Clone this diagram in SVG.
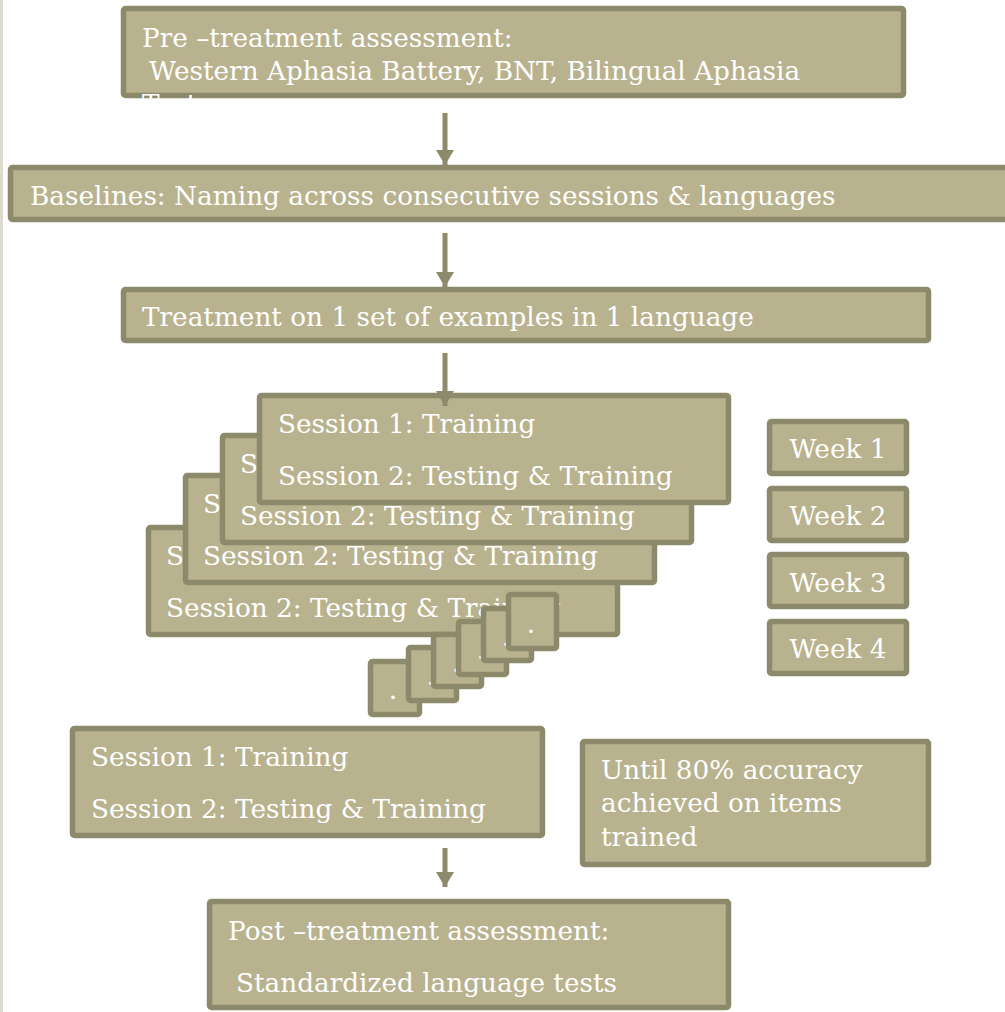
<svg xmlns="http://www.w3.org/2000/svg" width="1005" height="1012" viewBox="0 0 1005 1012">
<style>
.box{fill:#b8b28e;stroke:#8c8a6b;stroke-width:5.5}
.t{font-family:"DejaVu Serif","Liberation Serif",serif;font-size:26.3px;fill:#ffffff}
.tc{text-anchor:middle}
.conn{stroke:#8c8a6b;stroke-width:5;fill:none}
</style>
<defs>
<marker id="ah" markerUnits="userSpaceOnUse" markerWidth="16" markerHeight="18" refX="15" refY="9" orient="auto" viewBox="0 0 16 18">
<path d="M0,0 L15,9 L0,18 z" fill="#8c8a6b"/>
</marker>
<clipPath id="clip1"><rect x="0" y="0" width="1005" height="100"/></clipPath>
</defs>
<rect x="0" y="0" width="1005" height="1012" fill="#ffffff"/>
<rect x="0" y="0" width="3" height="1012" fill="#dddbcc"/>

<g id="pre">
<rect class="box" x="123.5" y="8.5" width="780" height="87" rx="2"/>
<text class="t" x="142" y="47">Pre –treatment assessment:</text>
<text class="t" x="149" y="80">Western Aphasia Battery, BNT, Bilingual Aphasia</text>
<text class="t" x="142" y="113" clip-path="url(#clip1)">Test</text>
</g>

<g id="baselines">
<rect class="box" x="10.5" y="167.5" width="1000" height="52" rx="2"/>
<text class="t" x="30" y="205">Baselines: Naming across consecutive sessions &amp; languages</text>
</g>

<g id="treatment">
<rect class="box" x="123.5" y="289.5" width="805" height="51" rx="2"/>
<text class="t" x="142" y="326">Treatment on 1 set of examples in 1 language</text>
</g>

<g id="stackA">
<rect class="box" x="148.5" y="527.5" width="469" height="107" rx="2"/>
<text class="t" x="166" y="565">Session 1: Training</text>
<text class="t" x="166" y="617">Session 2: Testing &amp; Training</text>
</g>
<g id="stackB">
<rect class="box" x="185.5" y="475.5" width="469" height="107" rx="2"/>
<text class="t" x="203" y="513">Session 1: Training</text>
<text class="t" x="203" y="565">Session 2: Testing &amp; Training</text>
</g>
<g id="stackC">
<rect class="box" x="222.5" y="435.5" width="469" height="107" rx="2"/>
<text class="t" x="240" y="473">Session 1: Training</text>
<text class="t" x="240" y="525">Session 2: Testing &amp; Training</text>
</g>
<g id="stackD">
<rect class="box" x="259.5" y="395.5" width="469" height="107" rx="2"/>
<text class="t" x="278" y="433">Session 1: Training</text>
<text class="t" x="278" y="485">Session 2: Testing &amp; Training</text>
</g>

<g id="dot6"><rect class="box" x="370.5" y="661.5" width="49" height="53" rx="2"/><text class="t tc" x="393" y="699">.</text></g>
<g id="dot5"><rect class="box" x="408.5" y="647.5" width="48" height="53" rx="2"/><text class="t tc" x="431" y="685">.</text></g>
<g id="dot4"><rect class="box" x="433.5" y="634.5" width="48" height="52" rx="2"/><text class="t tc" x="456" y="672">.</text></g>
<g id="dot3"><rect class="box" x="458.5" y="621.5" width="48" height="53" rx="2"/><text class="t tc" x="481" y="659">.</text></g>
<g id="dot2"><rect class="box" x="483.5" y="608.5" width="48" height="52" rx="2"/><text class="t tc" x="506" y="646">.</text></g>
<g id="dot1"><rect class="box" x="508.5" y="594.5" width="48" height="54" rx="2"/><text class="t tc" x="531" y="633">.</text></g>

<g id="week1"><rect class="box" x="769.5" y="421.5" width="137" height="52" rx="2"/><text class="t tc" x="838" y="458">Week 1</text></g>
<g id="week2"><rect class="box" x="769.5" y="488.5" width="137" height="52" rx="2"/><text class="t tc" x="838" y="525">Week 2</text></g>
<g id="week3"><rect class="box" x="769.5" y="554.5" width="137" height="52" rx="2"/><text class="t tc" x="838" y="592">Week 3</text></g>
<g id="week4"><rect class="box" x="769.5" y="621.5" width="137" height="52" rx="2"/><text class="t tc" x="838" y="658">Week 4</text></g>

<g id="sessionLast">
<rect class="box" x="72.5" y="728.5" width="470" height="107" rx="2"/>
<text class="t" x="91" y="766">Session 1: Training</text>
<text class="t" x="91" y="818">Session 2: Testing &amp; Training</text>
</g>

<g id="until">
<rect class="box" x="582.5" y="741.5" width="346" height="123" rx="2"/>
<text class="t" x="601" y="779">Until 80% accuracy</text>
<text class="t" x="601" y="812">achieved on items</text>
<text class="t" x="601" y="846">trained</text>
</g>

<g id="post">
<rect class="box" x="209.5" y="901.5" width="519" height="106" rx="2"/>
<text class="t" x="228" y="940">Post –treatment assessment:</text>
<text class="t" x="236" y="992">Standardized language tests</text>
</g>

<g id="connectors">
<line class="conn" x1="445" y1="113" x2="445" y2="165" marker-end="url(#ah)"/>
<line class="conn" x1="445" y1="233" x2="445" y2="287" marker-end="url(#ah)"/>
<line class="conn" x1="445" y1="353" x2="445" y2="406" marker-end="url(#ah)"/>
<line class="conn" x1="445" y1="848" x2="445" y2="887" marker-end="url(#ah)"/>
</g>
</svg>
